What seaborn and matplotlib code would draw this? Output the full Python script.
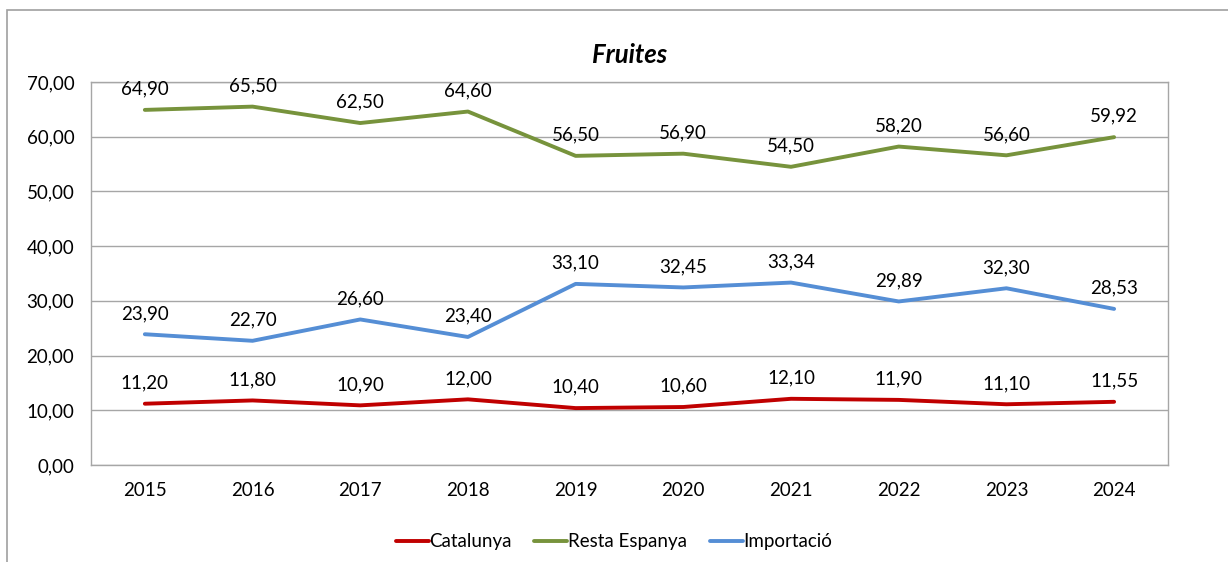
import pandas as pd
import seaborn as sns
import matplotlib.pyplot as plt
from matplotlib.patches import Rectangle

years = [2015, 2016, 2017, 2018, 2019, 2020, 2021, 2022, 2023, 2024]
catalunya = [11.20, 11.80, 10.90, 12.00, 10.40, 10.60, 12.10, 11.90, 11.10, 11.55]
resta_espanya = [64.90, 65.50, 62.50, 64.60, 56.50, 56.90, 54.50, 58.20, 56.60, 59.92]
importacio = [23.90, 22.70, 26.60, 23.40, 33.10, 32.45, 33.34, 29.89, 32.30, 28.53]
series_names = ["Catalunya", "Resta Espanya", "Importació"]
colors = ["#C00000", "#77933C", "#558ED5"]

df = pd.DataFrame({
    "any": years * 3,
    "valor": catalunya + resta_espanya + importacio,
    "serie": [n for n in series_names for _ in years],
})

sns.set_theme(style="white")
plt.rcParams["font.family"] = ["Lato", "DejaVu Sans"]
plt.rcParams["text.color"] = "#000000"

fig = plt.figure(figsize=(12.28, 5.62), dpi=100)
ax = fig.add_axes([0.0741, 0.1726, 0.8770, 0.6815])

sns.lineplot(data=df, x="any", y="valor", hue="serie", palette=colors,
             linewidth=2.8, ax=ax, legend=True)

fs = 13.5
for name, vals in zip(series_names, [catalunya, resta_espanya, importacio]):
    for x, v in zip(years, vals):
        ax.annotate(f"{v:.2f}".replace(".", ","), (x, v), xytext=(0, 15),
                    textcoords="offset points", ha="center", va="center",
                    fontsize=fs, color="#000000")

ax.set_xlim(2014.5, 2024.5)
ax.set_ylim(0, 70)
ax.set_xticks(years)
ax.set_xticklabels([str(y) for y in years], fontsize=fs)
ax.set_yticks(range(0, 71, 10))
ax.set_yticklabels([f"{v:.2f}".replace(".", ",") for v in range(0, 71, 10)], fontsize=fs)
ax.tick_params(axis="both", length=0, pad=12, colors="#000000")
ax.yaxis.grid(True, color="#A6A6A6", linewidth=1)
ax.xaxis.grid(False)
for s in ax.spines.values():
    s.set_color("#A6A6A6")
    s.set_linewidth(1)
ax.set_xlabel("")
ax.set_ylabel("")

ax.set_title("Fruites", fontsize=18.5, fontweight="bold", fontstyle="italic",
             pad=14, color="#000000")

handles, labels = ax.get_legend_handles_labels()
ax.legend(handles, labels, loc="center", bbox_to_anchor=(0.5, 0.0356), bbox_transform=fig.transFigure,
          ncol=3, frameon=False, fontsize=fs, handlelength=1.75, handletextpad=0.05,
          columnspacing=1.2)

fig.add_artist(Rectangle((0.0057, -0.2), 1.5, 1.182, transform=fig.transFigure,
                         fill=False, edgecolor="#A0A0A0", linewidth=1.2))

fig.savefig("out.png", dpi=100)
